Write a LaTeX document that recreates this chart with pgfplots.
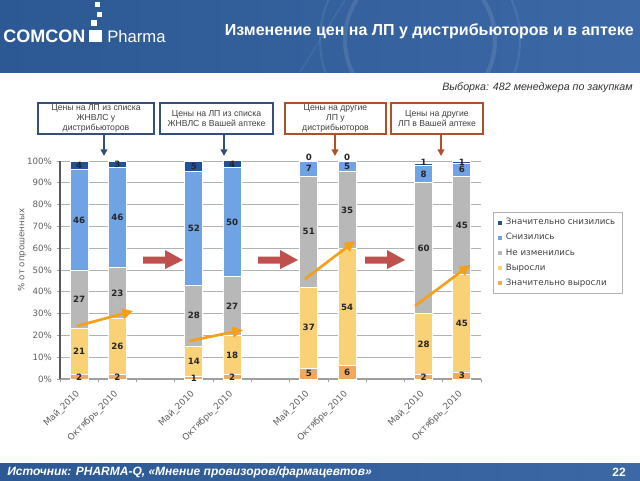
\documentclass[border=0pt]{standalone}
\usepackage{pgfplots}
\pgfplotsset{compat=1.18}
\usepackage{pgfplotstable}
\usepackage{fontspec}
\setmainfont{DejaVu Sans}
\newfontfamily\arial{Liberation Sans}
\usetikzlibrary{arrows.meta}
\definecolor{cDarkBlue}{HTML}{1F5597}
\definecolor{cBlue}{HTML}{6FA3E3}
\definecolor{cGray}{HTML}{B8B8B8}
\definecolor{cYellow}{HTML}{F9D278}
\definecolor{cOrange}{HTML}{F2A95E}
\definecolor{hdrA}{HTML}{2C5893}
\definecolor{hdrB}{HTML}{3C69A6}
\definecolor{boxblue}{HTML}{34507A}
\definecolor{boxred}{HTML}{B0502A}
\definecolor{redarrow}{HTML}{C0504D}
\definecolor{orarrow}{HTML}{F5A01A}
\definecolor{txtgray}{HTML}{606060}

\pgfplotstableread{
x y l
0 1 2
0 12.5 21
0 36.5 27
0 73 46
0 98 4
1 1 2
1 15 26
1 39.5 23
1 74 46
1 98.5 3
3 0.5 1
3 8 14
3 29 28
3 69 52
3 97.5 5
4 1 2
4 11 18
4 33.5 27
4 72 50
4 98.5 4
6 2.5 5
6 23.5 37
6 67.5 51
6 96.5 7
6 101.5 0
7 3 6
7 33 54
7 77.5 35
7 97.5 5
7 101.5 0
9 1 2
9 16 28
9 60 60
9 94 8
9 99.2 1
10 1.5 3
10 25.5 45
10 70.5 45
10 96 6
10 99.5 1
}\labeltable

\begin{document}
\begin{tikzpicture}[x=0.75pt,y=-0.75pt]
\useasboundingbox (0,0) rectangle (640,480);
\fill[white] (0,0) rectangle (640,480);
% header
\shade[left color=hdrA, right color=hdrB] (0,0) rectangle (640,72);
\begin{scope}
\clip (0,0) rectangle (640,72);
\draw[white, opacity=0.10, line width=3pt] (420,40) circle (75);
\draw[white, opacity=0.08, line width=1.5pt] (420,40) circle (100);
\draw[white, opacity=0.08, line width=1pt] (300,72) -- (345,0);
\end{scope}
% logo
\node[anchor=base west, text=white, font=\arial\bfseries\fontsize{13.5}{14}\selectfont, inner sep=0] at (3,42) {COMCON};
\fill[white] (89,30) rectangle (102,42);
\fill[white] (91,20) rectangle (97,26);
\fill[white] (97,12) rectangle (102,17);
\fill[white] (95,2) rectangle (100,7);
\node[anchor=base west, text=white, font=\arial\fontsize{12.5}{13}\selectfont, inner sep=0] at (107,42) {Pharma};
% title
\node[anchor=east, text=white, font=\arial\bfseries\fontsize{12}{13}\selectfont, inner sep=0] at (634,31) {Изменение цен на ЛП у дистрибьюторов и в аптеке};
% sample note
\node[anchor=east, text=black!80, font=\arial\itshape\fontsize{8}{9}\selectfont, inner sep=0] at (633,88) {Выборка: 482 менеджера по закупкам};

\begin{axis}[
  at={(45pt,-284.25pt)}, anchor=south west,
  scale only axis, width=315.75pt, height=163.5pt,
  ybar stacked, bar width=0.47,
  xmin=-0.5, xmax=10.5, ymin=0, ymax=100,
  axis x line=bottom, axis y line=left,
  every outer x axis line/.append style={-, draw=gray!75, line width=1.2pt},
  every outer y axis line/.append style={-, draw=black!65, line width=1.3pt},
  ytick={0,10,...,100},
  yticklabels={0\%,10\%,20\%,30\%,40\%,50\%,60\%,70\%,80\%,90\%,100\%},
  yticklabel style={font=\fontsize{6.5}{7}\selectfont, text=txtgray},
  ymajorgrids, grid style={gray!60, line width=0.6pt},
  xtick={-0.5,0.5,...,10.5}, xticklabels={},
  extra x ticks={0,1,3,4,6,7,9,10},
  extra x tick labels={Май\_2010,Октябрь\_2010,Май\_2010,Октябрь\_2010,Май\_2010,Октябрь\_2010,Май\_2010,Октябрь\_2010},
  extra x tick style={major tick length=0pt, grid=none, xticklabel style={rotate=45, anchor=north east, font=\fontsize{6.7}{7}\selectfont, text=txtgray, inner sep=1pt, xshift=-6.4pt, yshift=-2.1pt}},
  tick align=outside, major tick length=2.5pt,
  tick style={draw=gray!75, line width=0.6pt},
  legend style={at={(1.0285,0.766)}, anchor=north west, draw=gray!60, fill=white, font=\fontsize{6.5}{7}\selectfont, text=black!75, row sep=1.1pt, inner xsep=3pt, inner ysep=2.5pt, /tikz/every even column/.append style={column sep=1pt}},
  legend cell align=left,
  reverse legend,
  legend image code/.code={\fill[#1] (0pt,-1.9pt) rectangle (3.8pt,1.9pt);},
]
\addplot[fill=cOrange, draw=white, line width=0.7pt] coordinates {(0,2) (1,2) (3,1) (4,2) (6,5) (7,6) (9,2) (10,3)};
\addlegendentry{Значительно выросли}
\addplot[fill=cYellow, draw=white, line width=0.7pt] coordinates {(0,21) (1,26) (3,14) (4,18) (6,37) (7,54) (9,28) (10,45)};
\addlegendentry{Выросли}
\addplot[fill=cGray, draw=white, line width=0.7pt] coordinates {(0,27) (1,23) (3,28) (4,27) (6,51) (7,35) (9,60) (10,45)};
\addlegendentry{Не изменились}
\addplot[fill=cBlue, draw=white, line width=0.7pt] coordinates {(0,46) (1,46) (3,52) (4,50) (6,7) (7,5) (9,8) (10,6)};
\addlegendentry{Снизились}
\addplot[fill=cDarkBlue, draw=white, line width=0.7pt] coordinates {(0,4) (1,3) (3,5) (4,4) (6,0) (7,0) (9,1) (10,1)};
\addlegendentry{Значительно снизились}
\end{axis}

\begin{axis}[
  at={(45pt,-284.25pt)}, anchor=south west,
  scale only axis, width=315.75pt, height=163.5pt,
  xmin=-0.5, xmax=10.5, ymin=0, ymax=100,
  hide axis, clip=false,
]
\addplot[draw=none, mark=none, nodes near coords, point meta=explicit symbolic,
  every node near coord/.style={anchor=center, font=\bfseries\fontsize{6.5}{7}\selectfont, text=black!85, inner sep=0pt}]
  table[x=x, y=y, meta=l] {\labeltable};
\end{axis}

% y label
\node[rotate=90, font=\fontsize{6.5}{7}\selectfont, text=txtgray] at (22,250) {\% от опрошенных};

% callout boxes
\draw[boxblue, line width=1.1pt] (38,103) rectangle (154,134);
\node[align=center, font=\arial\fontsize{6.5}{7.6}\selectfont, text=black!75] at (96,118.5) {Цены на ЛП из списка\\ЖНВЛС у\\дистрибьюторов};
\draw[boxblue, line width=1.3pt, -{Triangle[length=5pt,width=5pt]}] (104,134) -- (104,156);
\draw[boxblue, line width=1.1pt] (160,103) rectangle (273,134);
\node[align=center, font=\arial\fontsize{6.5}{7.6}\selectfont, text=black!75] at (216.5,118.5) {Цены на ЛП из списка\\ЖНВЛС в Вашей аптеке};
\draw[boxblue, line width=1.3pt, -{Triangle[length=5pt,width=5pt]}] (224,134) -- (224,156);
\draw[boxred, line width=1.1pt] (285,103) rectangle (386,134);
\node[align=center, font=\arial\fontsize{6.5}{7.6}\selectfont, text=black!75] at (335.5,118.5) {Цены на другие\\ЛП у\\дистрибьюторов};
\draw[boxred, line width=1.3pt, -{Triangle[length=5pt,width=5pt]}] (335,134) -- (335,156);
\draw[boxred, line width=1.1pt] (391,103) rectangle (483,134);
\node[align=center, font=\arial\fontsize{6.5}{7.6}\selectfont, text=black!75] at (437,118.5) {Цены на другие\\ЛП в Вашей аптеке};
\draw[boxred, line width=1.3pt, -{Triangle[length=5pt,width=5pt]}] (441,134) -- (441,156);

% red block arrows
\foreach \xa in {143,258,365}{
  \fill[redarrow] (\xa,256.5) -- (\xa+22,256.5) -- (\xa+22,250) -- (\xa+40,260) -- (\xa+22,269) -- (\xa+22,263.5) -- (\xa,263.5) -- cycle;
}
% orange arrows
\draw[orarrow, line width=2pt, -{Triangle[length=8pt,width=8pt]}] (77,326) -- (133,311);
\draw[orarrow, line width=2pt, -{Triangle[length=8pt,width=8pt]}] (189,341) -- (243,330);
\draw[orarrow, line width=2pt, -{Triangle[length=8pt,width=8pt]}] (305,279) -- (355,241);
\draw[orarrow, line width=2pt, -{Triangle[length=8pt,width=8pt]}] (415,306) -- (470,265);

% footer
\shade[left color=hdrA, right color=hdrB] (0,463) rectangle (640,480);
\node[anchor=west, text=white, font=\arial\bfseries\itshape\fontsize{9}{10}\selectfont, inner sep=0] at (7,472) {Источник: PHARMA-Q, «Мнение провизоров/фармацевтов»};
\node[anchor=east, text=white, font=\arial\bfseries\fontsize{9}{10}\selectfont, inner sep=0] at (626,472) {22};
\end{tikzpicture}
\end{document}
